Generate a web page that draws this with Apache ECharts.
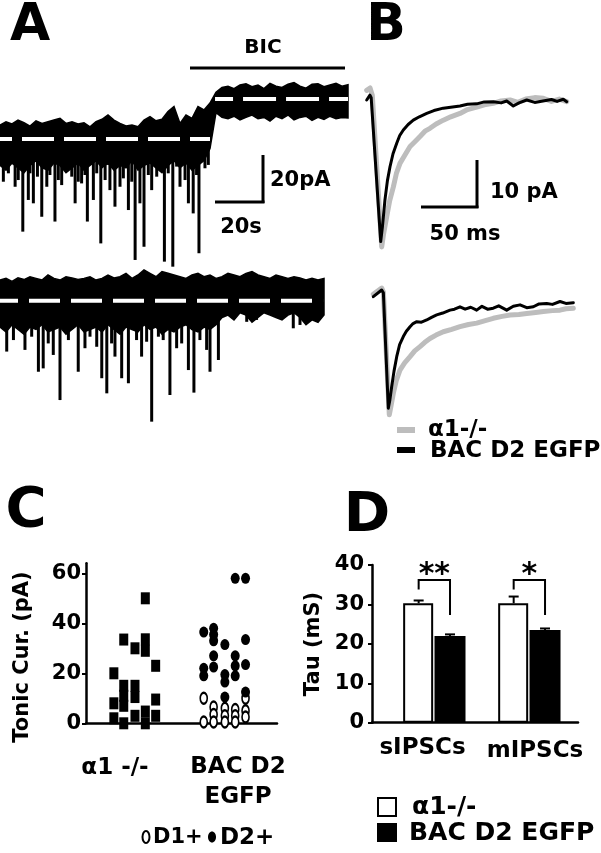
<!DOCTYPE html>
<html><head><meta charset="utf-8">
<script src="https://cdn.jsdelivr.net/npm/echarts@6/dist/echarts.min.js"></script>
<style>html,body{margin:0;padding:0;background:#fff;}#c{width:601px;height:853px;}</style>
</head><body><div id="c"></div>
<script>
// ---------------- DATA ----------------
// Panel A: tonic current recordings (envelope sampled every 2.5 s, values in pA)
const A_SAMPLE_S = 2.5;
const aTopUpper = [5.8,7.2,6.3,7.9,6.8,5.4,7.6,6.5,7.2,7.9,8.6,6.5,7.2,6.3,6.8,5.1,7.2,8.2,10,7.9,6.5,5.4,5.8,5.1,7.9,9.3,7.6,8.2,11.4,13.5,6.5,10,8.6,13.5,12.1,15,
  19.5,21.5,22,21,22.5,23,21.8,22.5,21,23.2,22,21.5,22.8,23.5,22,21.2,22.8,23,21.8,22.5,23.2,22,22.6];
const aTopLower = [-11,-13,-10,-12,-14,-11,-9,-12,-13,-10,-11,-14,-12,-10,-13,-11,-9,-12,-10,-13,-11,-12,-9,-13,-11,-10,-12,-14,-11,-9,-12,-10,-13,-11,-9,-4,
  11,9,8.5,9.5,8,9,10,8.5,9,7.5,9.5,8.5,10,8,9,9.5,7.8,9,8.2,9.5,8.5,9,8.8];
const aTopSpikeTime = [1.4,3.5,6.3,7.6,9.5,11.8,12.5,13.9,15.6,17.4,19.5,20.8,22.9,24.3,25.7,27.8,29.9,31.3,32.6,34,35.4,36.4,38.9,40.3,42,43.8,45.1,45.8,47.9,50,51.4,53.5,54.9,56.3,58.3,60,61.8,63.2,65.3,68.5,70.1,72,73.6,75,77.1,78.5,80.5,81.9,82.9,85.4,86.8];
const aTopSpikeAmp  = [-17.8,-14.3,-19.9,-17.1,-38.6,-25.4,-14.3,-26.8,-15.7,-32.4,-19.9,-15,-34.4,-17.1,-19.2,-12.9,-15.7,-26.8,-17.8,-18.5,-15,-34.4,-25.4,-14.3,-43.5,-17.1,-10.8,-21.3,-28.2,-19.9,-16.4,-29.6,-17.8,-50.4,-26.8,-44.9,-15,-21.3,-15.7,-51.1,-14.3,-53.2,-11.5,-19.9,-17.1,-26.8,-31,-15,-47.6,-12.2,-10.8];
const aTopBaselines = [[0, 87.5, 0], [89.6, 145, 16.7]]; // [from s, to s, level pA]

const aBotUpper = [8.6,9.3,8,9.5,8.8,10,9.3,8.6,10.7,9.3,8.6,10,9.5,8.8,9.3,10,8.6,9.3,10.7,9.5,10,11.4,9.3,10.7,12.8,11.4,10,12.1,11.4,10.7,10,9.3,10.7,11.4,10,10.7,9.3,10,11.4,10.7,10,11.4,12.1,10.7,10,9.3,10.7,10,9.3,10,9.5,8.6,9.3,8.6,9.3];
const aBotLower = [-11,-13,-10,-12,-14,-11,-12,-10,-13,-12,-11,-14,-12,-10,-13,-12,-11,-13,-10,-12,-14,-11,-12,-13,-10,-12,-11,-14,-12,-13,-11,-10,-12,-13,-11,-12,-10,
  -7,-6,-8,-5,-6,-9,-7,-5,-6,-7,-8,-6,-5,-7,-10,-8,-9,-6];
const aBotSpikeTime = [2.8,5.6,10.4,13.2,16,18,20.1,22.2,25,28.5,32.6,35.4,37.5,40.3,42.4,44.5,46.5,47.9,50.7,53.5,56.9,59,61.1,63.2,66,68,70.8,73.6,75.7,78.5,80.8,83.3,86.1,87.5,91,97.2,102.8,106.9,115.3,122.2,125];
const aBotSpikeAmp  = [-21.2,-16.4,-20.5,-15,-29.6,-28.2,-17.8,-22.6,-41.4,-16.4,-29.6,-19.8,-15,-19.2,-32.3,-38.6,-17.8,-23.3,-32.3,-34.4,-16.4,-23.3,-17.1,-50.4,-15,-16.4,-39.3,-19.8,-17.8,-28.9,-38.3,-16.4,-20.5,-29.6,-24.7,-7.3,-8.8,-8,-6,-11.5,-10.1];
const aBotBaselines = [[0, 134.6, 0]];

// Panel B: averaged IPSCs [time ms, current pA]
const bTopA1 = [[0,2],[3,2.5],[5,1],[13.4,-30.6],[15,-28],[17.9,-24.3],[20.5,-21],[23.8,-18.1],[26.5,-15.3],[29.7,-13.2],[34,-11.5],[38.7,-9.7],[43,-8.7],[47.6,-7.6],[52,-6.5],[56.5,-5.9],[62,-5],[68.4,-4.2],[75,-3.5],[83.3,-2.8],[90,-2],[98.2,-1.5],[105,-1.0],[113,-0.7],[120,-0.2],[128,0],[135,-0.5],[142,0.2],[150,0.5],[157.7,0.35],[165,-0.3],[172,0.2],[178.6,-0.35]];
const bTopD2 = [[0,0],[2.9,1.0],[4,0.5],[12.5,-29.5],[14,-26.5],[16.3,-20.8],[18.5,-16.8],[20.8,-13.9],[23.5,-11.2],[26.8,-9.0],[29.5,-7.4],[32.7,-6.25],[37,-5.1],[41.6,-4.2],[47,-3.5],[53.6,-2.8],[60,-2.2],[68.4,-1.7],[75,-1.5],[83.3,-1.25],[90,-0.9],[98.2,-0.8],[105,-0.4],[113,-0.35],[120,-0.6],[125,-0.2],[130.9,-1.25],[136,-0.6],[142.9,0],[150,-0.5],[157.4,-0.2],[165,0.1],[170,-0.3],[175.5,0.15],[178.6,-0.35]];
const bBotA1 = [[0,0.5],[7.5,1.8],[9,1],[14.3,-24.6],[16,-22.5],[17.9,-20.1],[20.5,-17.5],[23.8,-15.3],[28,-13.8],[32.8,-12.5],[37,-11.3],[41.7,-10.4],[46,-9.5],[50.6,-8.7],[56,-8.0],[62.5,-7.3],[70,-6.8],[77.4,-6.25],[85,-5.8],[92.3,-5.5],[100,-5.0],[107.1,-4.5],[115,-4.1],[122.1,-3.8],[130,-3.7],[137,-3.5],[145,-3.3],[151.8,-3.1],[160,-2.9],[166.7,-2.8],[172,-2.5],[178.6,-2.4]];
const bBotD2 = [[0,0],[7.5,1.4],[9,0.8],[13.4,-23.25],[14.8,-21.5],[16.4,-18.75],[18.5,-15.5],[20.9,-12.5],[23.5,-10],[26.8,-8.3],[29.5,-7.2],[32.8,-6.25],[35.5,-5.6],[38.8,-5.2],[43,-5.3],[47.7,-4.85],[52,-4.3],[56.6,-3.8],[62,-3.4],[68.5,-2.8],[72.5,-2.6],[77.4,-2.1],[82,-2.6],[87,-2.2],[92.3,-2.8],[97,-2.0],[102,-2.6],[107.1,-2.4],[112,-1.9],[119.1,-2.8],[125,-2.0],[131,-1.7],[137,-2.3],[142.9,-2.1],[148,-1.5],[154.8,-1.4],[160,-1.6],[166.7,-1.0],[172,-1.4],[178.6,-1.25]];
const bLegend = ['α1-/-', 'BAC D2 EGFP'];

// Panel C: tonic current (pA), one list per scatter column
const cCategories = ['α1 -/-', 'BAC D2\nEGFP'];
const cA1Cols = [[20,8,2],[33.5,15,11,7,0],[30,15,10.5,3],[50,33.6,29,4.7,0],[23,9.5,3]];
const cD2Cols = [[36.5,22,19],[38,35.5,33,27,22.5],[31.5,19.5,16.5,10.5],[58,27,23,19],[58,33.5,23.5,12.5]];
const cD1Cols = [[10,0.5],[6.5,3.5,0.5],[6,3,0.5],[5.5,3,0.5],[10,5,2.5]];
const cYTicks = [0,20,40,60];
const cLegend = ['D1+', 'D2+'];

// Panel D: decay tau (ms)
const dCategories = ['sIPSCs', 'mIPSCs'];
const dTauA1 = [30.3, 30.3];
const dTauA1Err = [0.7, 1.7];
const dTauD2 = [22.0, 23.5];
const dTauD2Err = [0.4, 0.4];
const dSig = ['**', '*'];
const dLegend = ['α1-/-', 'BAC D2 EGFP'];

// ---------------- LAYOUT / STYLE ----------------
const FF = "'DejaVu Sans', sans-serif";
const bold = s => 'bold ' + s + 'px ' + FF;
const COL_OFF = [-0.235, -0.125, 0, 0.115, 0.23];
const BAR_OFF = 0.165;
const GREY = '#bdbdbd';

function bandSeries(idx, upper, lower) {
  const times = upper.map((_, i) => i * A_SAMPLE_S);
  return {
    type: 'custom', xAxisIndex: idx, yAxisIndex: idx, data: [0], clip: false, silent: true, z: 2,
    renderItem: (p, api) => {
      const pts = [];
      for (let i = 0; i < upper.length; i++) pts.push(api.coord([times[i], upper[i]]));
      for (let i = lower.length - 1; i >= 0; i--) pts.push(api.coord([times[i], lower[i]]));
      return { type: 'polygon', shape: { points: pts }, style: { fill: '#000', stroke: '#000', lineWidth: 1.5 } };
    }
  };
}
function spikeSeries(idx, times, amps) {
  return { type: 'bar', xAxisIndex: idx, yAxisIndex: idx, barWidth: 3, silent: true, z: 2,
    data: times.map((t, i) => [t, amps[i]]), itemStyle: { color: '#000' } };
}
function baselineSeries(idx, b, offset, dash) {
  return { type: 'line', xAxisIndex: idx, yAxisIndex: idx, symbol: 'none', silent: true, z: 4,
    data: [[b[0], b[2]], [b[1], b[2]]],
    lineStyle: { color: '#fff', width: 4, type: dash, dashOffset: offset } };
}
function traceSeries(idx, data, color, width, z) {
  return { type: 'line', xAxisIndex: idx, yAxisIndex: idx, symbol: 'none', silent: true, z: z,
    data: data, lineStyle: { color: color, width: width, join: 'round', cap: 'round' } };
}
function colsToPoints(cols, center) {
  const out = [];
  cols.forEach((col, ci) => col.forEach(v => out.push([center + COL_OFF[ci], v])));
  return out;
}

const hidden = (gi, min, max) => ({ type: 'value', gridIndex: gi, min: min, max: max, show: false });

const T = (x, y, text, size, align, extra) => Object.assign({
  type: 'text', x: x, y: y,
  style: { text: text, font: bold(size), fill: '#000', textAlign: align || 'center', textVerticalAlign: 'middle' }
}, extra || {});
const L = (x1, y1, x2, y2, w, c) => ({ type: 'line', shape: { x1, y1, x2, y2 }, style: { stroke: c || '#000', lineWidth: w || 3 } });

const chart = echarts.init(document.getElementById('c'), null, { renderer: 'canvas' });

const axisTextStyle = { color: '#000', fontFamily: FF, fontWeight: 'bold', fontSize: 21 };

const option = {
  animation: false,
  backgroundColor: '#fff',
  textStyle: { fontFamily: FF },
  grid: [
    { left: 0, top: 55, width: 348, height: 220.8, outerBoundsMode: 'none' },
    { left: 0, top: 264.7, width: 324, height: 160.8, outerBoundsMode: 'none' },
    { left: 361.1, top: 76, width: 235.2, height: 182.4, outerBoundsMode: 'none' },
    { left: 367.7, top: 272.7, width: 235.2, height: 153.6, outerBoundsMode: 'none' },
    { left: 86, top: 563.3, width: 191, height: 160, outerBoundsMode: 'none' },
    { left: 372, top: 565, width: 206, height: 157.7, outerBoundsMode: 'none' }
  ],
  xAxis: [
    hidden(0, 0, 145), hidden(1, 0, 135), hidden(2, -5, 205), hidden(3, -5, 205),
    { type: 'value', gridIndex: 4, min: -0.545, max: 1.58, splitLine: { show: false },
      axisLine: { show: true, onZero: false, lineStyle: { color: '#000', width: 2.5 } }, axisTick: { show: false }, axisLabel: { show: false } },
    { type: 'value', gridIndex: 5, min: -0.656, max: 1.512, splitLine: { show: false },
      axisLine: { show: true, onZero: false, lineStyle: { color: '#000', width: 2.5 } }, axisTick: { show: false }, axisLabel: { show: false } }
  ],
  yAxis: [
    hidden(0, -57, 35), hidden(1, -52, 15), hidden(2, -33, 5), hidden(3, -27, 5),
    { type: 'value', gridIndex: 4, min: 0, max: 64, interval: 20, splitLine: { show: false },
      axisLine: { show: true, onZero: false, lineStyle: { color: '#000', width: 2.5 } },
      axisTick: { show: true, length: 4, customValues: cYTicks, lineStyle: { color: '#000', width: 2 } },
      axisLabel: Object.assign({ margin: 5, customValues: cYTicks, formatter: v => (v % 20 === 0 ? String(v) : '') }, axisTextStyle) },
    { type: 'value', gridIndex: 5, min: 0, max: 40, interval: 10, splitLine: { show: false },
      axisLine: { show: true, onZero: false, lineStyle: { color: '#000', width: 2.5 } },
      axisTick: { show: true, length: 4, lineStyle: { color: '#000', width: 2 } },
      axisLabel: Object.assign({ margin: 8 }, axisTextStyle) }
  ],
  series: [
    // A top
    bandSeries(0, aTopUpper, aTopLower),
    spikeSeries(0, aTopSpikeTime, aTopSpikeAmp),
    baselineSeries(0, aTopBaselines[0], 20, [32, 10]),
    baselineSeries(0, aTopBaselines[1], 15, [33, 10]),
    // A bottom
    bandSeries(1, aBotUpper, aBotLower),
    spikeSeries(1, aBotSpikeTime, aBotSpikeAmp),
    baselineSeries(1, aBotBaselines[0], 13, [31, 11]),
    // B
    traceSeries(2, bTopA1, GREY, 5, 2),
    traceSeries(2, bTopD2, '#000', 3, 3),
    traceSeries(3, bBotA1, GREY, 5, 2),
    traceSeries(3, bBotD2, '#000', 3, 3),
    // C
    { type: 'scatter', xAxisIndex: 4, yAxisIndex: 4, symbol: 'rect', symbolSize: [9, 12], silent: true,
      data: colsToPoints(cA1Cols, 0), itemStyle: { color: '#000', opacity: 1 } },
    { type: 'scatter', xAxisIndex: 4, yAxisIndex: 4, symbol: 'circle', symbolSize: [7, 11], silent: true,
      data: colsToPoints(cD1Cols, 1), itemStyle: { color: '#fff', borderColor: '#000', borderWidth: 2, opacity: 1 } },
    { type: 'scatter', xAxisIndex: 4, yAxisIndex: 4, symbol: 'circle', symbolSize: [9, 11], silent: true,
      data: colsToPoints(cD2Cols, 1), itemStyle: { color: '#000', opacity: 1 } },
    // D
    { type: 'bar', xAxisIndex: 5, yAxisIndex: 5, barWidth: 30, barGap: '-100%', silent: true,
      data: dTauA1.map((v, i) => [i - BAR_OFF, v]), itemStyle: { color: '#fff', borderColor: '#000', borderWidth: 2 } },
    { type: 'bar', xAxisIndex: 5, yAxisIndex: 5, barWidth: 31, barGap: '-100%', silent: true,
      data: dTauD2.map((v, i) => [i + BAR_OFF, v]), itemStyle: { color: '#000' } },
    { type: 'custom', xAxisIndex: 5, yAxisIndex: 5, silent: true, z: 5,
      data: dTauA1.map((v, i) => [i - BAR_OFF, v, v + dTauA1Err[i]]).concat(dTauD2.map((v, i) => [i + BAR_OFF, v, v + dTauD2Err[i]])),
      renderItem: (p, api) => {
        const a = api.coord([api.value(0), api.value(1)]);
        const b = api.coord([api.value(0), api.value(2)]);
        return { type: 'group', children: [
          { type: 'line', shape: { x1: a[0], y1: a[1], x2: b[0], y2: b[1] }, style: { stroke: '#000', lineWidth: 2 } },
          { type: 'line', shape: { x1: b[0] - 5, y1: b[1], x2: b[0] + 5, y2: b[1] }, style: { stroke: '#000', lineWidth: 2 } }
        ] };
      } },
    { type: 'custom', xAxisIndex: 5, yAxisIndex: 5, silent: true, z: 5, clip: false,
      data: dSig.map((s, i) => [i]),
      renderItem: (p, api) => {
        const i = api.value(0);
        const l0 = api.coord([i - BAR_OFF, 33.8]), lt = api.coord([i - BAR_OFF, 36.2]);
        const rt = api.coord([i + BAR_OFF, 36.2]), r0 = api.coord([i + BAR_OFF, 27.3]);
        const st = api.coord([i, 37.4]);
        return { type: 'group', children: [
          { type: 'polyline', shape: { points: [l0, lt, rt, r0] }, style: { stroke: '#000', lineWidth: 2, fill: null } },
          { type: 'text', style: { text: dSig[p.dataIndex], x: st[0], y: st[1], font: bold(30), fill: '#000', textAlign: 'center', textVerticalAlign: 'middle' } }
        ] };
      } }
  ],
  graphic: [
    // panel letters
    T(30, 26, 'A', 52), T(386, 26, 'B', 52), T(26, 511, 'C', 56), T(367, 516, 'D', 56),
    // A annotations
    L(190, 68, 345, 68, 3), T(263, 48, 'BIC', 20),
    L(263, 155, 263, 203, 3), L(215, 202, 264.5, 202, 3),
    T(270, 181, '20pA', 21, 'left'), T(241, 228, '20s', 21),
    // B annotations
    L(477, 160, 477, 208, 3), L(421, 207, 478.5, 207, 3),
    T(490, 193, '10 pA', 21, 'left'), T(465, 235, '50 ms', 21),
    L(397, 430, 415, 430, 6, GREY), L(397, 450, 415, 450, 6, '#000'),
    T(428, 430, bLegend[0], 23, 'left'), T(430, 451, bLegend[1], 23, 'left'),
    // C labels
    T(23, 657, 'Tonic Cur. (pA)', 21, 'center', { rotation: Math.PI / 2 }),
    T(115, 768, cCategories[0], 23),
    { type: 'text', x: 238, y: 782, style: { text: cCategories[1], font: bold(23), fill: '#000', textAlign: 'center', textVerticalAlign: 'middle', lineHeight: 30 } },
    { type: 'ellipse', shape: { cx: 146, cy: 837, rx: 3.5, ry: 6 }, style: { fill: '#fff', stroke: '#000', lineWidth: 2 } },
    T(153, 838, cLegend[0], 21, 'left'),
    { type: 'ellipse', shape: { cx: 212, cy: 837, rx: 4, ry: 5.5 }, style: { fill: '#000' } },
    T(220, 838, cLegend[1], 23, 'left'),
    // D labels
    T(313.5, 644, 'Tau (mS)', 21, 'center', { rotation: Math.PI / 2 }),
    T(422.5, 748, dCategories[0], 23), T(535, 751, dCategories[1], 23),
    { type: 'rect', shape: { x: 378, y: 798, width: 18, height: 18 }, style: { fill: '#fff', stroke: '#000', lineWidth: 2 } },
    { type: 'rect', shape: { x: 377, y: 823, width: 20, height: 19 }, style: { fill: '#000' } },
    T(412, 807, dLegend[0], 25, 'left'), T(409, 833, dLegend[1], 25, 'left')
  ]
};
chart.setOption(option);
</script></body></html>
